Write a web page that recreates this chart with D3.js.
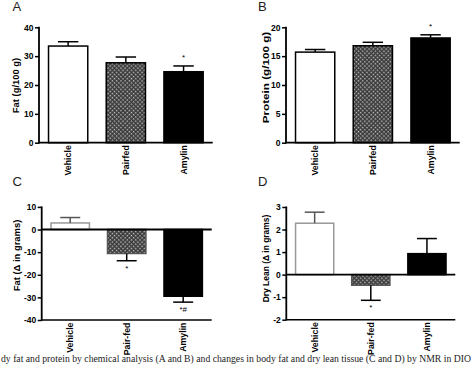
<!DOCTYPE html>
<html>
<head>
<meta charset="utf-8">
<script src="https://cdn.jsdelivr.net/npm/d3@7"></script>
<style>
  html, body { margin: 0; padding: 0; background: #fff; overflow: hidden; }
  svg { display: block; }
</style>
</head>
<body>
<svg id="chart" width="474" height="366"></svg>
<script>
// ---------------- data ----------------
const categoriesAB = ["Vehicle", "Pairfed", "Amylin"];
const categoriesCD = ["Vehicle", "Pair-fed", "Amylin"];

const fatPct      = [33.5, 27.7, 24.6];
const fatPctErr   = [1.5, 2.0, 2.0];
const proteinPct    = [15.7, 16.8, 18.15];
const proteinPctErr = [0.45, 0.6, 0.55];
const fatDelta    = [2.9, -10.6, -29.5];
const fatDeltaErr = [2.4, 3.2, 2.6];
const leanDelta    = [2.28, -0.47, 0.93];
const leanDeltaErr = [0.49, 0.67, 0.67];

const marksA = ["", "", "*"];
const marksB = ["", "", "*"];
const marksC = ["", "*", "*#"];
const marksD = ["", "*", ""];

const ticksA = [0, 10, 20, 30, 40];
const ticksB = [0, 5, 10, 15, 20];
const ticksC = [-40, -30, -20, -10, 0, 10];
const ticksD = [-2, -1, 0, 1, 2, 3];

const caption = "dy fat and protein by chemical analysis (A and B) and changes in body fat and dry lean tissue (C and D) by NMR in DIO";

// ---------------- drawing ----------------
const svg = d3.select("#chart");
const FONT = "'Liberation Sans', Arial, Helvetica, sans-serif";

const defs = svg.append("defs");
const pat = defs.append("pattern")
  .attr("id", "hatch")
  .attr("patternUnits", "userSpaceOnUse")
  .attr("width", 3).attr("height", 3)
  .attr("patternTransform", "rotate(45)");
pat.append("rect").attr("width", 3).attr("height", 3).attr("fill", "#3a3a3a");
pat.append("rect").attr("x", 1).attr("y", 1).attr("width", 1.4).attr("height", 1.4).attr("fill", "#c8c8c8");

const panels = [
  { letter: "A", lx: 12.5, ly: 11, left: 39, right: 212.7, top: 27.3, bottom: 142.7,
    domain: [0, 40], ticks: ticksA, cats: categoriesAB, values: fatPct, errs: fatPctErr, marks: marksA,
    title: "Fat (g/100 g)", tx: 16, ty: 85.5, tlen: 55.5, vehStroke: "#000", pfStroke: "#000", zeroAxis: false },
  { letter: "B", lx: 258, ly: 11, left: 286, right: 459.7, top: 27.3, bottom: 142.7,
    domain: [0, 20], ticks: ticksB, cats: categoriesAB, values: proteinPct, errs: proteinPctErr, marks: marksB,
    title: "Protein (g/100 g)", tx: 265.3, ty: 77.5, tlen: 91.5, vehStroke: "#000", pfStroke: "#000", zeroAxis: false },
  { letter: "C", lx: 12.5, ly: 186, left: 41.7, right: 211.7, top: 206.9, bottom: 320,
    domain: [-40, 10], ticks: ticksC, cats: categoriesCD, values: fatDelta, errs: fatDeltaErr, marks: marksC,
    title: "Fat (\u0394 in grams)", tx: 16.5, ty: 255.5, tlen: 71.6, vehStroke: "#999", pfStroke: "#555", zeroAxis: true },
  { letter: "D", lx: 258, ly: 186, left: 286.3, right: 455.3, top: 207, bottom: 319.7,
    domain: [-2, 3], ticks: ticksD, cats: categoriesCD, values: leanDelta, errs: leanDeltaErr, marks: marksD,
    title: "Dry Lean (\u0394 in grams)", tx: 265.5, ty: 258.5, tlen: 87.6, vehStroke: "#999", pfStroke: "#555", zeroAxis: true }
];

const fills = ["#ffffff", "url(#hatch)", "#000000"];

panels.forEach(p => {
  const g = svg.append("g");
  const x = d3.scaleBand().domain(p.cats).range([p.left, p.right])
    .paddingInner(0.32).paddingOuter(0.165);
  const y = d3.scaleLinear().domain(p.domain).range([p.bottom, p.top]);
  const y0 = y(Math.max(p.domain[0], 0));

  // panel letter
  svg.append("text").attr("x", p.lx).attr("y", p.ly)
    .attr("font-family", FONT).attr("font-size", 13).attr("fill", "#222")
    .text(p.letter);

  // bars
  const strokes = [p.vehStroke, p.pfStroke, "#000"];
  p.cats.forEach((c, i) => {
    const v = p.values[i];
    const yTop = Math.min(y(v), y0), yBot = Math.max(y(v), y0);
    g.append("rect")
      .attr("x", x(c)).attr("y", yTop)
      .attr("width", x.bandwidth()).attr("height", yBot - yTop)
      .attr("fill", fills[i]).attr("stroke", strokes[i]).attr("stroke-width", 1.5);
    // error bar (one-sided, away from zero)
    const e = v >= 0 ? v + p.errs[i] : v - p.errs[i];
    const cx = x(c) + x.bandwidth() / 2;
    const cw = x.bandwidth() * 0.26;
    const ec = i === 0 && p.zeroAxis ? "#555" : "#000";
    g.append("line").attr("x1", cx).attr("x2", cx).attr("y1", y(v)).attr("y2", y(e))
      .attr("stroke", ec).attr("stroke-width", 1.5);
    g.append("line").attr("x1", cx - cw).attr("x2", cx + cw).attr("y1", y(e)).attr("y2", y(e))
      .attr("stroke", ec).attr("stroke-width", 1.5);
    // significance marks
    if (p.marks[i]) {
      const my = v >= 0 ? y(e) - 6 : y(e) + 10;
      g.append("text").attr("x", cx).attr("y", my)
        .attr("text-anchor", "middle")
        .attr("font-family", FONT).attr("font-size", 8).attr("fill", "#000")
        .text(p.marks[i]);
    }
    // category label
    g.append("text")
      .attr("transform", `translate(${cx},${p.bottom + 2.5}) rotate(-90)`)
      .attr("text-anchor", "end").attr("dy", "0.35em")
      .attr("font-family", FONT).attr("font-size", 8.8).attr("font-weight", "bold")
      .text(c);
  });

  // y axis
  const yAxis = d3.axisLeft(y).tickValues(p.ticks).tickSize(4).tickPadding(1.5)
    .tickFormat(d => String(d));
  const ya = g.append("g").attr("transform", `translate(${p.left},0)`).call(yAxis);
  ya.select(".domain").attr("stroke-width", 1.8).attr("d", `M0,${p.top - 0.5}V${p.bottom + 0.8}`);
  ya.selectAll(".tick line").attr("stroke-width", 1.5);
  ya.selectAll(".tick text").attr("font-family", FONT).attr("font-size", 8.5)
    .attr("font-weight", "bold").attr("fill", "#000");

  // x axis line at zero and bottom line
  g.append("line").attr("x1", p.left).attr("x2", p.right).attr("y1", y0).attr("y2", y0)
    .attr("stroke", "#000").attr("stroke-width", 1.8);
  if (p.zeroAxis) {
    g.append("line").attr("x1", p.left).attr("x2", p.right).attr("y1", p.bottom).attr("y2", p.bottom)
      .attr("stroke", "#000").attr("stroke-width", 1.5);
  }

  // y title
  g.append("text")
    .attr("transform", `translate(${p.tx},${p.ty}) rotate(-90)`)
    .attr("text-anchor", "middle").attr("dy", "0.35em")
    .attr("font-family", FONT).attr("font-size", 9.4).attr("font-weight", "bold")
    .attr("textLength", p.tlen).attr("lengthAdjust", "spacingAndGlyphs")
    .text(p.title);
});

// caption
svg.append("text").attr("x", 1).attr("y", 361.5)
  .attr("font-family", "'Liberation Serif', 'Times New Roman', serif")
  .attr("font-size", 9.5).attr("fill", "#222")
  .attr("textLength", 470).attr("lengthAdjust", "spacingAndGlyphs")
  .text(caption);
</script>
</body>
</html>
